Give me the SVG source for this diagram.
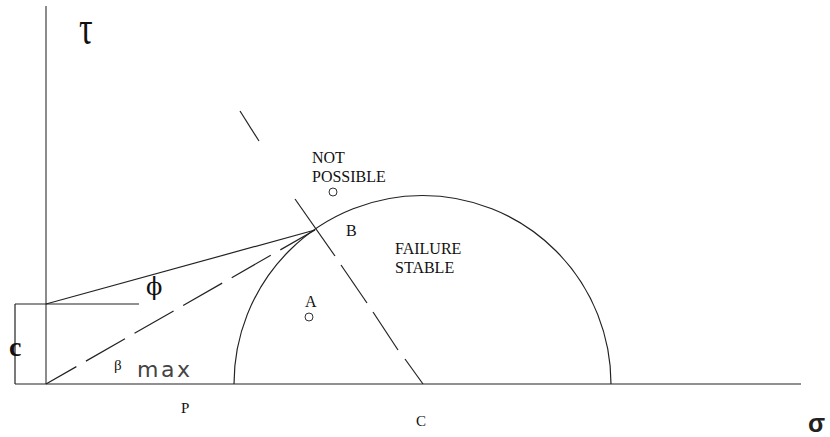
<svg xmlns="http://www.w3.org/2000/svg" width="830" height="437" viewBox="0 0 830 437">
<style>
.ln{stroke:#222;stroke-width:1.2;fill:none}
.ax{stroke:#666;stroke-width:1.5;fill:none}
.t{font-family:"Liberation Serif","Times New Roman",serif;fill:#111}
.pt{fill:none;stroke:#333;stroke-width:1}
</style>
<rect width="830" height="437" fill="#fff"/>
<g id="axes">
<line class="ax" x1="46" y1="6" x2="46" y2="384"/>
<line class="ln" x1="15" y1="384" x2="801" y2="384"/>
</g>
<g id="cohesion">
<line class="ln" x1="15" y1="304" x2="15" y2="384"/>
<line class="ln" x1="15" y1="304" x2="139" y2="304"/>
</g>
<g id="mohr-circle">
<path class="ln" d="M234,384 A188.5,188.5 0 0 1 611,384"/>
</g>
<g id="connectors">
<line class="ln" x1="46" y1="304" x2="315" y2="230"/>
<line class="ln" x1="46" y1="384" x2="315" y2="230" stroke-dasharray="45,11" stroke-dashoffset="10"/>
<line class="ln" x1="240" y1="111" x2="259" y2="141"/>
<line class="ln" x1="295" y1="199" x2="335" y2="256"/>
<line class="ln" x1="341" y1="265" x2="367" y2="303"/>
<line class="ln" x1="373" y1="312" x2="398" y2="350"/>
<line class="ln" x1="405" y1="359" x2="423" y2="384"/>
</g>
<g id="points">
<circle class="pt" cx="333" cy="192" r="4"/>
<circle class="pt" cx="309" cy="317" r="4"/>
</g>
<g id="labels">
<text class="t" x="0" y="0" font-size="34" transform="translate(79,44) scale(1,1.45)">τ</text>
<text x="146" y="295" font-family="DejaVu Serif, serif" font-size="24" fill="#111">ϕ</text>
<text class="t" x="9" y="356" font-size="28" font-weight="bold">c</text>
<text class="t" x="114" y="370" font-size="15">β</text>
<text x="137" y="377" font-family="DejaVu Sans, sans-serif" font-size="22" fill="#444" letter-spacing="2.5">max</text>
<text class="t" x="181" y="413" font-size="15">P</text>
<text class="t" x="416" y="426" font-size="15">C</text>
<text x="808" y="432" font-family="Liberation Sans, Arial, sans-serif" font-size="25" font-weight="bold" fill="#222">σ</text>
<text class="t" x="312" y="163" font-size="16">NOT</text>
<text class="t" x="312" y="182" font-size="16">POSSIBLE</text>
<text class="t" x="346" y="236" font-size="16">B</text>
<text class="t" x="395" y="254" font-size="16">FAILURE</text>
<text class="t" x="395" y="273" font-size="16">STABLE</text>
<text class="t" x="305" y="307" font-size="16">A</text>
</g>
</svg>
